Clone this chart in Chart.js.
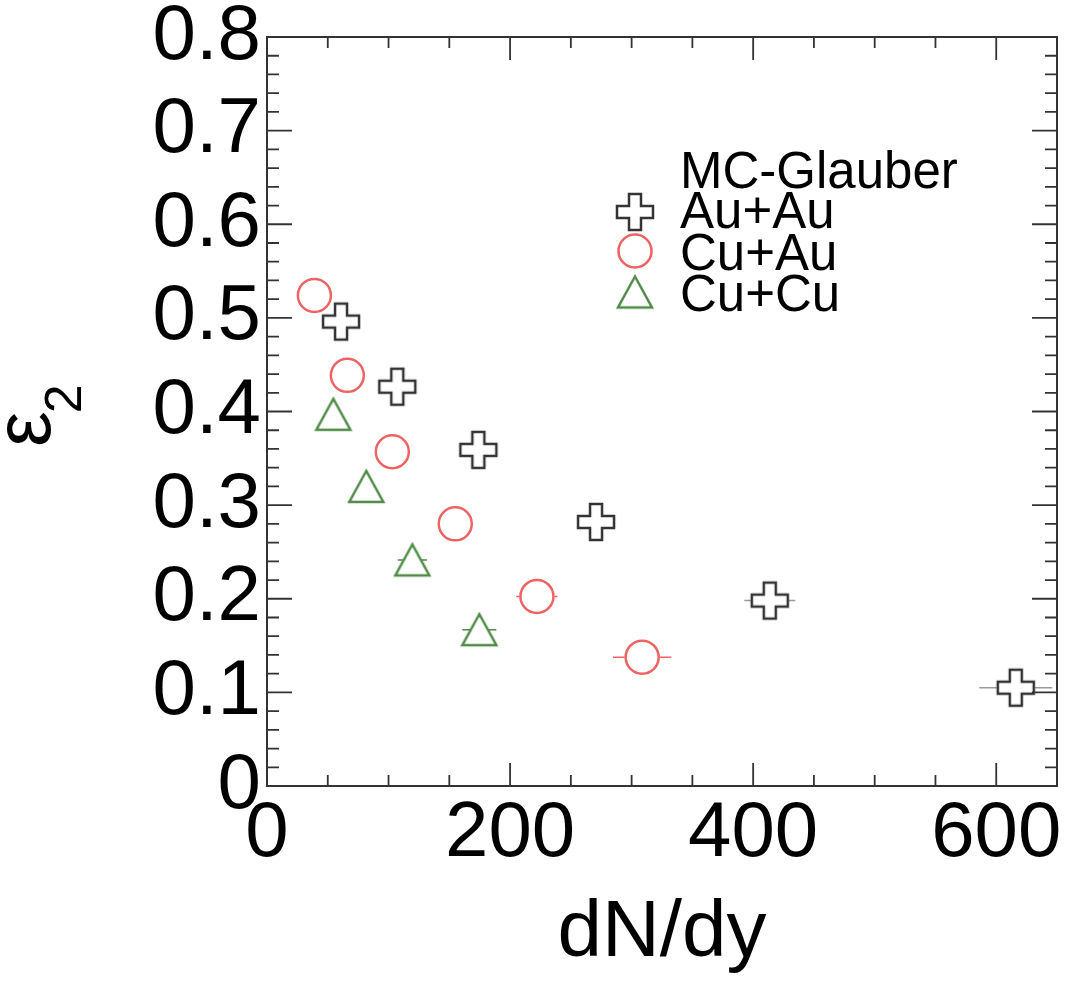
<!DOCTYPE html>
<html>
<head>
<meta charset="utf-8">
<script src="https://cdn.jsdelivr.net/npm/chart.js@4.4.1/dist/chart.umd.min.js"></script>
<style>
  html, body { margin: 0; padding: 0; background: #fff; }
</style>
</head>
<body>
<canvas id="eps" width="1069" height="982"></canvas>
<script>
// eccentricity vs multiplicity, MC-Glauber
const seriesNames = ['Au+Au', 'Cu+Au', 'Cu+Cu'];

const auauX = [60.9, 107.2, 173.9, 270.7, 413.7, 616.1];
const auauY = [0.496, 0.4265, 0.359, 0.282, 0.198, 0.105];
const auauErr = [4, 6, 9, 13, 21, 30];

const cuauX = [39.0, 66.1, 103.1, 154.9, 222.1, 308.7];
const cuauY = [0.524, 0.4386, 0.357, 0.280, 0.2025, 0.1376];
const cuauErr = [3, 5, 8, 12, 17, 24];

const cucuX = [54.6, 81.7, 119.6, 174.7];
const cucuY = [0.397, 0.320, 0.2415, 0.167];
const cucuErr = [4, 6, 12, 14];

const xTicks = [0, 200, 400, 600];
const yTicks = [0, 0.1, 0.2, 0.3, 0.4, 0.5, 0.6, 0.7, 0.8];

const FONT = '"Liberation Sans", Arial, Helvetica, sans-serif';
const INK = '#333';
const RED = '#ee6464';
const GREEN = '#4f8a46';

function toPoints(xs, ys) {
  return xs.map((x, i) => ({ x, y: ys[i] }));
}

// open cross (outlined plus)
function crossMarker(size, arm, color, lw) {
  const c = document.createElement('canvas');
  const pad = Math.ceil(lw) + 1;
  c.width = c.height = size + 2 * pad;
  const g = c.getContext('2d');
  const m = c.width / 2, h = size / 2, a = arm / 2;
  g.beginPath();
  g.moveTo(m - a, m - h); g.lineTo(m + a, m - h); g.lineTo(m + a, m - a); g.lineTo(m + h, m - a);
  g.lineTo(m + h, m + a); g.lineTo(m + a, m + a); g.lineTo(m + a, m + h); g.lineTo(m - a, m + h);
  g.lineTo(m - a, m + a); g.lineTo(m - h, m + a); g.lineTo(m - h, m - a); g.lineTo(m - a, m - a);
  g.closePath();
  g.strokeStyle = color;
  g.lineWidth = lw;
  g.stroke();
  return c;
}

// open triangle, centred on its bounding box
function triangleMarker(w, h, color, lw) {
  const c = document.createElement('canvas');
  const pad = Math.ceil(lw) + 1;
  c.width = w + 2 * pad;
  c.height = h + 2 * pad;
  const g = c.getContext('2d');
  const mx = c.width / 2, my = c.height / 2;
  g.beginPath();
  g.moveTo(mx, my - h / 2);
  g.lineTo(mx + w / 2, my + h / 2);
  g.lineTo(mx - w / 2, my + h / 2);
  g.closePath();
  g.strokeStyle = color;
  g.lineWidth = lw;
  g.lineJoin = 'miter';
  g.stroke();
  return c;
}

const crossImg = crossMarker(36, 12, INK, 2.5);
const triImg = triangleMarker(34, 31, GREEN, 2.5);

const rootStyle = {
  id: 'rootStyle',
  beforeDatasetsDraw(chart) {
    const { ctx } = chart;
    const xs = chart.scales.x;
    chart.data.datasets.forEach((ds, di) => {
      const meta = chart.getDatasetMeta(di);
      ctx.save();
      ctx.strokeStyle = ds.errColor;
      ctx.lineWidth = 1.5;
      meta.data.forEach((pt, i) => {
        const lo = xs.getPixelForValue(ds.data[i].x - ds.xErr[i]);
        const hi = xs.getPixelForValue(ds.data[i].x + ds.xErr[i]);
        const gap = ds.errGap;
        ctx.beginPath();
        if (pt.x - lo > gap) { ctx.moveTo(lo, pt.y); ctx.lineTo(pt.x - gap, pt.y); }
        if (hi - pt.x > gap) { ctx.moveTo(pt.x + gap, pt.y); ctx.lineTo(hi, pt.y); }
        ctx.stroke();
      });
      ctx.restore();
    });
  },
  afterDraw(chart) {
    const { ctx, chartArea: a } = chart;
    const xs = chart.scales.x, ys = chart.scales.y;
    ctx.save();
    ctx.strokeStyle = INK;
    ctx.lineWidth = 2;
    ctx.strokeRect(a.left, a.top, a.right - a.left, a.bottom - a.top);

    // inward ticks on all four sides
    ctx.lineWidth = 1.8;
    ctx.beginPath();
    for (let v = 0; v <= xs.max; v += 50) {
      const px = xs.getPixelForValue(v);
      const len = v % 200 === 0 ? 23 : 11;
      ctx.moveTo(px, a.bottom); ctx.lineTo(px, a.bottom - len);
      ctx.moveTo(px, a.top); ctx.lineTo(px, a.top + len);
    }
    for (let i = 0; i <= 40; i++) {
      const py = ys.getPixelForValue(i * 0.02);
      const len = i % 5 === 0 ? 25 : 12;
      ctx.moveTo(a.left, py); ctx.lineTo(a.left + len, py);
      ctx.moveTo(a.right, py); ctx.lineTo(a.right - len, py);
    }
    ctx.stroke();

    // y title: epsilon with subscript 2
    ctx.fillStyle = '#000';
    ctx.translate(50, 447);
    ctx.rotate(-Math.PI / 2);
    ctx.textBaseline = 'alphabetic';
    ctx.textAlign = 'left';
    ctx.font = '80px ' + FONT;
    ctx.fillText('ε', 0, 0);
    const ew = ctx.measureText('ε').width;
    ctx.font = '52px ' + FONT;
    ctx.fillText('2', ew - 2, 31);
    ctx.restore();

    // legend
    ctx.save();
    ctx.fillStyle = '#000';
    ctx.font = '51px ' + FONT;
    ctx.textBaseline = 'alphabetic';
    ctx.fillText('MC-Glauber', 680, 188);
    const rows = [228, 270, 311];
    const marks = [212, 251, 292];
    chart.data.datasets.forEach((ds, i) => {
      ctx.fillStyle = '#000';
      ctx.fillText(ds.label, 680, rows[i]);
      const mx = 635, my = marks[i];
      if (ds.pointStyle === 'circle') {
        ctx.strokeStyle = ds.borderColor;
        ctx.lineWidth = 2.5;
        ctx.beginPath();
        ctx.arc(mx, my, 16.5, 0, Math.PI * 2);
        ctx.stroke();
      } else {
        const img = ds.pointStyle;
        ctx.drawImage(img, mx - img.width / 2, my - img.height / 2);
      }
    });
    ctx.restore();
  }
};

new Chart(document.getElementById('eps'), {
  type: 'scatter',
  data: {
    datasets: [
      {
        label: seriesNames[0],
        data: toPoints(auauX, auauY),
        pointStyle: crossImg,
        borderColor: INK,
        xErr: auauErr, errColor: '#9a9a9a', errGap: 19,
      },
      {
        label: seriesNames[1],
        data: toPoints(cuauX, cuauY),
        pointStyle: 'circle',
        pointRadius: 16.5,
        borderColor: RED,
        backgroundColor: 'rgba(0,0,0,0)',
        borderWidth: 2.5,
        xErr: cuauErr, errColor: RED, errGap: 17.5,
      },
      {
        label: seriesNames[2],
        data: toPoints(cucuX, cucuY),
        pointStyle: triImg,
        borderColor: GREEN,
        xErr: cucuErr, errColor: GREEN, errGap: 9,
      },
    ],
  },
  options: {
    responsive: false,
    animation: false,
    events: [],
    layout: { autoPadding: false, padding: { top: 37, right: 12, left: 0, bottom: 0 } },
    plugins: { legend: { display: false }, tooltip: { enabled: false } },
    scales: {
      x: {
        type: 'linear',
        min: 0,
        max: 650,
        grid: { display: false, drawTicks: false },
        border: { display: false },
        afterFit: (s) => { s.height = 196; s.paddingLeft = 0; s.paddingRight = 0; },
        afterBuildTicks: (s) => { s.ticks = xTicks.map((v) => ({ value: v })); },
        ticks: {
          autoSkip: false,
          maxRotation: 0,
          padding: 2,
          color: '#000',
          font: { size: 78, family: FONT },
        },
        title: {
          display: true,
          text: 'dN/dy',
          color: '#000',
          font: { size: 80, family: FONT, lineHeight: 1.2 },
          padding: { top: 0, bottom: 0 },
        },
      },
      y: {
        min: 0,
        max: 0.8,
        grid: { display: false, drawTicks: false },
        border: { display: false },
        afterFit: (s) => { s.width = 267; s.paddingTop = 0; s.paddingBottom = 0; },
        afterBuildTicks: (s) => { s.ticks = yTicks.map((v) => ({ value: v })); },
        ticks: {
          autoSkip: false,
          padding: 6,
          color: '#000',
          font: { size: 78, family: FONT },
          callback: (v) => (v === 0 ? '0' : v.toFixed(1)),
        },
      },
    },
  },
  plugins: [rootStyle],
});
</script>
</body>
</html>
